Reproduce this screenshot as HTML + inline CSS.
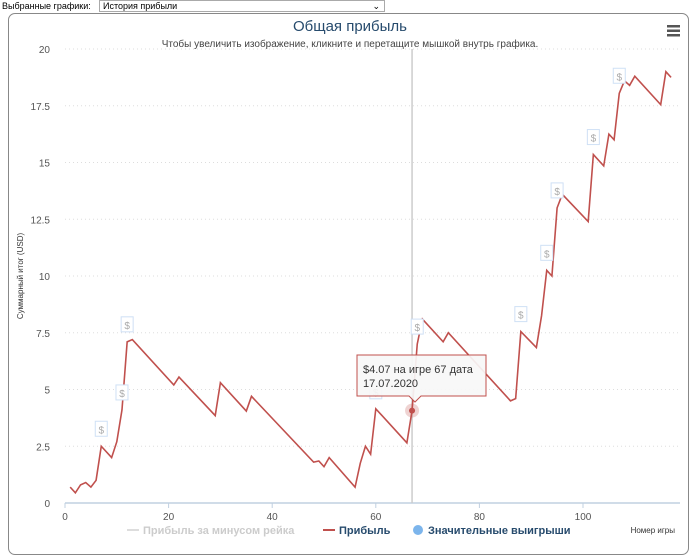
<!DOCTYPE html>
<html><head><meta charset="utf-8">
<style>
body{margin:0;width:700px;height:550px;background:#fff;font-family:"Liberation Sans","DejaVu Sans",sans-serif;overflow:hidden;position:relative}
.lbl{position:absolute;left:2px;top:1px;font-size:9px;color:#000}
.sel{position:absolute;left:99px;top:0;width:286px;height:11px;border:1px solid #aaa;font-size:9px;line-height:11px;padding-left:3px;box-sizing:border-box;height:12px}
.frame{position:absolute;left:8px;top:13px;width:679px;height:540px;border:1px solid #888;border-radius:7px}
svg{position:absolute;left:0;top:0}
</style></head><body>
<div class="lbl">Выбранные графики:</div>
<div class="sel">История прибыли<span style="position:absolute;right:4px;top:0;font-size:9px">&#x2304;</span></div>
<div class="frame"></div>
<svg id="c" width="700" height="550" font-family="Liberation Sans, DejaVu Sans, sans-serif"></svg>
<script>
const games=[1,2,3,4,5,6,7,9,10,11,12,13,21,22,29,30,35,36,48,49,50,51,56,57,58,59,60,66,67,68,69,73,74,86,87,88,91,92,93,94,95,96,101,102,104,105,106,107,108,109,110,115,116,117];
const profit=[0.7,0.45,0.8,0.9,0.7,1.0,2.5,2.0,2.7,4.1,7.1,7.2,5.2,5.55,3.85,5.3,4.05,4.7,1.8,1.85,1.6,2.0,0.7,1.75,2.5,2.15,4.15,2.65,4.07,7.0,8.1,7.1,7.5,4.5,4.6,7.55,6.85,8.25,10.25,10.0,13.0,13.6,12.4,15.35,14.85,16.25,16.0,18.05,18.6,18.4,18.8,17.55,19.0,18.75];
const bigWins=[7,11,12,60,68,88,93,95,102,107];
const yTicks=[0,2.5,5,7.5,10,12.5,15,17.5,20];
const xTicks=[0,20,40,60,80,100];
const NS='http://www.w3.org/2000/svg';
const svg=document.getElementById('c');
const X=v=>65+v*5.18, Y=v=>503-v*22.7;
function mk(t,a,txt){const e=document.createElementNS(NS,t);for(const k in a)e.setAttribute(k,a[k]);if(txt!=null)e.textContent=txt;svg.appendChild(e);return e;}
let e;
e=mk('text',{x:350,y:31,'text-anchor':'middle','font-size':15,fill:'#274b6d'},'Общая прибыль');


e=mk('text',{x:350,y:47,'text-anchor':'middle','font-size':10,fill:'#444'},'Чтобы увеличить изображение, кликните и перетащите мышкой внутрь графика.');


for(let i=0;i<3;i++){e=mk('rect',{x:667,y:25+i*4.5,width:13,height:2.5,fill:'#555'});

}
yTicks.forEach(v=>{
 if(v>0){e=mk('line',{x1:65,x2:680,y1:Y(v),y2:Y(v),stroke:'#ddd','stroke-dasharray':'1,3'});
 
 }
 e=mk('text',{x:50,y:Y(v)+4,'text-anchor':'end','font-size':10,fill:'#555'},String(v));
 
 
});
e=mk('line',{x1:65,x2:680,y1:503,y2:503,stroke:'#c0d0e0','stroke-width':1.5});


xTicks.forEach(v=>{
 e=mk('line',{x1:X(v),x2:X(v),y1:503,y2:508,stroke:'#c0d0e0'});
 
 
 e=mk('text',{x:X(v),y:520,'text-anchor':'middle','font-size':10,fill:'#555'},String(v));
 
 
});
e=mk('text',{x:0,y:0,'font-size':8,fill:'#333','text-anchor':'middle',transform:'translate(23,276) rotate(-90)'},'Суммарный итог (USD)');


e=mk('text',{x:675,y:533,'text-anchor':'end','font-size':8,fill:'#333'},'Номер игры');


e=mk('line',{x1:X(67),x2:X(67),y1:49,y2:503,stroke:'#ccc','stroke-width':1.5});


e=mk('polyline',{points:games.map((g,i)=>X(g)+','+Y(profit[i])).join(' '),fill:'none',stroke:'#c0504d','stroke-width':1.6});


bigWins.forEach(g=>{
 const i=games.indexOf(g);const px=X(g),py=Y(profit[i]);
 e=mk('g',{});
 
 
 const r=document.createElementNS(NS,'rect');r.setAttribute('x',px-6);r.setAttribute('y',py-25);r.setAttribute('width',12);r.setAttribute('height',15);r.setAttribute('fill','#fff');r.setAttribute('stroke','#cfe0f5');e.appendChild(r);
 const t=document.createElementNS(NS,'text');t.setAttribute('x',px);t.setAttribute('y',py-13);t.setAttribute('text-anchor','middle');t.setAttribute('font-size',10);t.setAttribute('fill','#aaa');t.textContent='$';e.appendChild(t);
});
const hi=games.indexOf(67);
e=mk('circle',{cx:X(67),cy:Y(profit[hi]),r:7,fill:'rgba(192,80,77,0.25)'});


e=mk('circle',{cx:X(67),cy:Y(profit[hi]),r:3,fill:'#c0504d'});


e=mk('path',{d:'M357,355 H486 V396 H421 L415,402 L409,396 H357 Z',fill:'rgba(247,247,247,0.92)',stroke:'#c0504d','stroke-width':1});


e=mk('text',{x:363,y:373,'font-size':11,fill:'#333'},'$4.07 на игре 67 дата');


e=mk('text',{x:363,y:387,'font-size':11,fill:'#333'},'17.07.2020');


e=mk('line',{x1:127,x2:139,y1:530,y2:530,stroke:'#ddd','stroke-width':2});


e=mk('text',{x:143,y:534,'font-size':11,'font-weight':'bold',fill:'#ccc'},'Прибыль за минусом рейка');


e=mk('line',{x1:323,x2:335,y1:530,y2:530,stroke:'#c0504d','stroke-width':2});


e=mk('text',{x:339,y:534,'font-size':11,'font-weight':'bold',fill:'#274b6d'},'Прибыль');


e=mk('circle',{cx:418,cy:530,r:5,fill:'#7cb5ec'});


e=mk('text',{x:428,y:534,'font-size':11,'font-weight':'bold',fill:'#274b6d'},'Значительные выигрыши');


</script>
</body></html>
